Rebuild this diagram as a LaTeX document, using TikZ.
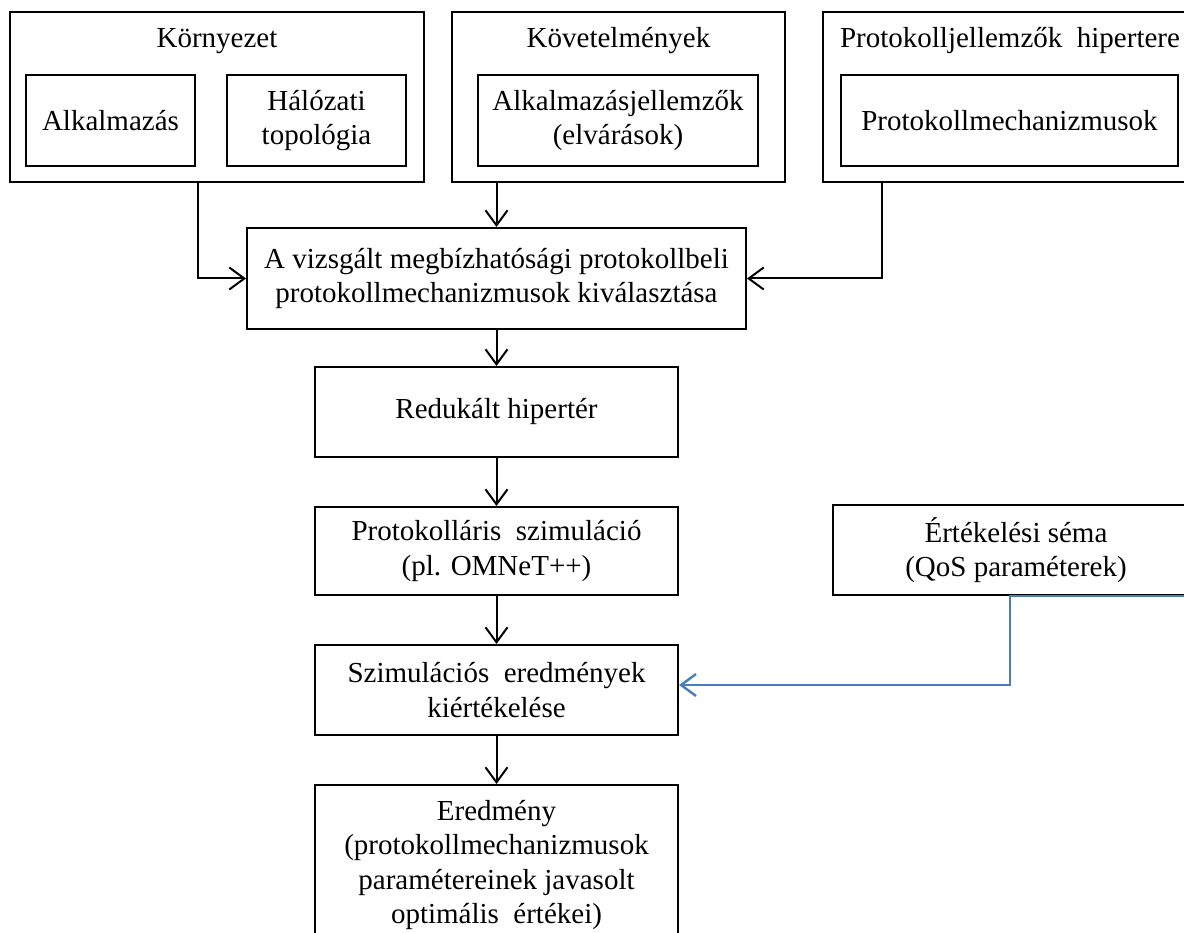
\documentclass[tikz,border=0pt]{standalone}
\usepackage{fontspec}
\setmainfont{Liberation Serif}
\usepackage{xcolor}
\usepackage{tikz}
\usetikzlibrary{arrows.meta, positioning, calc}
\definecolor{myblue}{RGB}{74, 126, 187}

\tikzset{
    box/.style={draw, line width=2pt, align=center, inner sep=0pt,
        font=\fontsize{29}{34.5}\selectfont},
    arr/.style={line width=2pt, -{Straight Barb[length=15pt, width=22pt]}},
    bluearr/.style={arr, myblue, line width=2.4pt}
}

\begin{document}
\begin{tikzpicture}[x=1pt, y=-1pt]
    \useasboundingbox (0,0) rectangle (1184,933);

    % felső csoportok
    \node[box, minimum width=414pt, minimum height=170pt] (env) at (217,97) {};
    \node[box, draw=none] (envtitle) at (217,41) {Környezet};
    \node[box, minimum width=169pt, minimum height=91pt] (app) at (110.5,120.5) {Alkalmazás};
    \node[box, minimum width=179pt, minimum height=91pt] (topo) at (316.5,120.5) {Hálózati\\topológia};

    \node[box, minimum width=333pt, minimum height=170pt] (req) at (618.5,97) {};
    \node[box, draw=none] (reqtitle) at (618.5,41) {Követelmények};
    \node[box, minimum width=280pt, minimum height=91pt] (appchar) at (618,120.5) {Alkalmazásjellemzők\\(elvárások)};

    \node[box, minimum width=374pt, minimum height=170pt] (proto) at (1010,97) {};
    \node[box, draw=none] (prototitle) at (1010,41) {Protokolljellemzők~~hipertere};
    \node[box, minimum width=337pt, minimum height=91pt] (mech) at (1009.5,120.5) {Protokollmechanizmusok};

    % középső lánc
    \node[box, minimum width=499pt, minimum height=101pt] (sel) at (496.5,278.5)
        {A vizsgált megbízhatósági protokollbeli\\protokollmechanizmusok kiválasztása};
    \node[box, minimum width=363pt, minimum height=90pt] (red) at (496.5,412) {Redukált hipertér};
    \node[box, minimum width=363pt, minimum height=88pt] (sim) at (496.5,551)
        {Protokolláris~~szimuláció\\(pl. OMNeT++)};
    \node[box, minimum width=363pt, minimum height=90pt] (ev) at (496.5,690)
        {Szimulációs~~eredmények\\kiértékelése};
    \node[box, minimum width=363pt, minimum height=160pt, anchor=north] (res) at (496.5,784)
        {Eredmény\\(protokollmechanizmusok\\paramétereinek javasolt\\optimális~~értékei)};

    \node[box, minimum width=366pt, minimum height=90pt] (evalsch) at (1016,550)
        {Értékelési séma\\(QoS paraméterek)};

    % nyilak
    \draw[arr] ([xshift=-19pt]env.south) |- (sel.west);
    \draw[arr] (sel.north |- req.south) -- (sel.north);
    \draw[arr] ([xshift=-128pt]proto.south) |- (sel.east);
    \draw[arr] (sel.south) -- (red.north);
    \draw[arr] (red.south) -- (sim.north);
    \draw[arr] (sim.south) -- (ev.north);
    \draw[arr] (ev.south) -- (res.north);
    \draw[bluearr] (evalsch.south east) -- ([xshift=-6pt]evalsch.south) |- ([yshift=5pt]ev.east);
\end{tikzpicture}
\end{document}
